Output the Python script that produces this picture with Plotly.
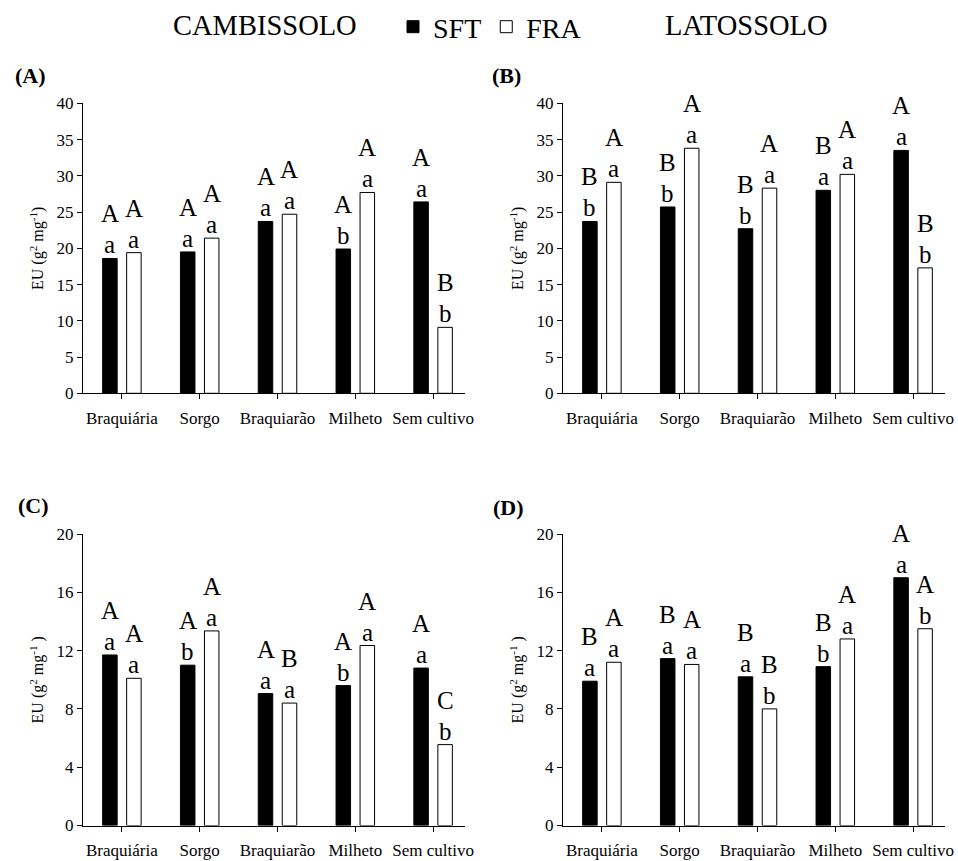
import plotly.graph_objects as go

categories = ["Braquiária", "Sorgo", "Braquiarão", "Milheto", "Sem cultivo"]

# Panel A (Cambissolo, top)
a_sft = [18.6, 19.5, 23.7, 19.9, 26.4]
a_fra = [19.4, 21.4, 24.7, 27.7, 9.1]
a_sft_up = ["A", "A", "A", "A", "A"]
a_sft_lo = ["a", "a", "a", "b", "a"]
a_fra_up = ["A", "A", "A", "A", "B"]
a_fra_lo = ["a", "a", "a", "a", "b"]

# Panel B (Latossolo, top)
b_sft = [23.7, 25.7, 22.7, 28.0, 33.5]
b_fra = [29.1, 33.8, 28.3, 30.2, 17.3]
b_sft_up = ["B", "B", "B", "B", "A"]
b_sft_lo = ["b", "b", "b", "a", "a"]
b_fra_up = ["A", "A", "A", "A", "B"]
b_fra_lo = ["a", "a", "a", "a", "b"]

# Panel C (Cambissolo, bottom)
c_sft = [11.7, 11.0, 9.05, 9.6, 10.8]
c_fra = [10.1, 13.35, 8.4, 12.35, 5.55]
c_sft_up = ["A", "A", "A", "A", "A"]
c_sft_lo = ["a", "b", "a", "b", "a"]
c_fra_up = ["A", "A", "B", "A", "C"]
c_fra_lo = ["a", "a", "a", "a", "b"]

# Panel D (Latossolo, bottom)
d_sft = [9.9, 11.45, 10.2, 10.9, 17.0]
d_fra = [11.2, 11.05, 8.0, 12.8, 13.5]
d_sft_up = ["B", "B", "B", "B", "A"]
d_sft_lo = ["a", "a", "a", "b", "a"]
d_fra_up = ["A", "A", "B", "A", "A"]
d_fra_lo = ["a", "a", "b", "a", "b"]

panel_labels = ["(A)", "(B)", "(C)", "(D)"]
y_titles = ["EU (g<sup>2</sup> mg<sup>-1</sup>)", "EU (g<sup>2</sup> mg<sup>-1</sup>)",
            "EU (g<sup>2</sup> mg<sup>-1</sup> )", "EU (g<sup>2</sup> mg<sup>-1</sup> )"]
y_ranges = [[0, 40], [0, 40], [0, 20], [0, 20]]
y_dticks = [5, 5, 4, 4]

W, H = 958, 861
FONT = "Liberation Serif"

panels = [
    (a_sft, a_fra, a_sft_up, a_sft_lo, a_fra_up, a_fra_lo),
    (b_sft, b_fra, b_sft_up, b_sft_lo, b_fra_up, b_fra_lo),
    (c_sft, c_fra, c_sft_up, c_sft_lo, c_fra_up, c_fra_lo),
    (d_sft, d_fra, d_sft_up, d_sft_lo, d_fra_up, d_fra_lo),
]

# pixel layout of plot areas (left, right, top, bottom)
boxes = [(83, 465, 103.3, 393.3), (563, 945, 103.3, 393.3),
         (83, 465, 534, 825.5), (563, 945, 534, 825.5)]

fig = go.Figure()
annotations = []
OFF = 0.154

for k, (sft, fra, sup, slo, fup, flo) in enumerate(panels):
    sfx = "" if k == 0 else str(k + 1)
    xa, ya = "x" + sfx, "y" + sfx
    fig.add_trace(go.Bar(x=categories, y=sft, name="SFT", legendgroup="SFT",
                         showlegend=(k == 0), xaxis=xa, yaxis=ya,
                         marker=dict(color="black", line=dict(color="black", width=1))))
    fig.add_trace(go.Bar(x=categories, y=fra, name="FRA", legendgroup="FRA",
                         showlegend=(k == 0), xaxis=xa, yaxis=ya,
                         marker=dict(color="white", line=dict(color="black", width=1))))
    for i in range(len(categories)):
        for val, up, lo, off in ((sft[i], sup[i], slo[i], -OFF), (fra[i], fup[i], flo[i], OFF)):
            annotations.append(dict(x=i + off, y=val, xref=xa, yref=ya, text=lo,
                                    showarrow=False, yanchor="bottom", yshift=-2,
                                    font=dict(family=FONT, size=25, color="black")))
            annotations.append(dict(x=i + off, y=val, xref=xa, yref=ya, text=up,
                                    showarrow=False, yanchor="bottom", yshift=29,
                                    font=dict(family=FONT, size=25, color="black")))

    l, r, t, b = boxes[k]
    axis_x = dict(domain=[l / W, r / W], range=[-0.5, 4.41], type="category",
                  categoryorder="array", categoryarray=categories,
                  showline=True, linecolor="black", linewidth=1, ticks="outside",
                  ticklen=5, tickcolor="black", showgrid=False, zeroline=False,
                  tickfont=dict(family=FONT, size=17, color="black"),
                  ticklabelstandoff=4,
                  anchor=ya, fixedrange=True, automargin=False)
    axis_y = dict(domain=[1 - b / H, 1 - t / H], range=y_ranges[k], dtick=y_dticks[k],
                  showline=True, linecolor="black", linewidth=1, ticks="outside",
                  ticklen=5, tickcolor="black", showgrid=False, zeroline=False,
                  tickfont=dict(family=FONT, size=17, color="black"),
                  title=dict(text=y_titles[k], font=dict(family=FONT, size=16, color="black"),
                             standoff=8),
                  anchor=xa, fixedrange=True, automargin=False)
    fig.update_layout({"xaxis" + sfx: axis_x, "yaxis" + sfx: axis_y})

label_pos = [(30, 76), (506, 76), (33, 506), (508, 507)]
for lab, (px, py) in zip(panel_labels, label_pos):
    annotations.append(dict(x=px / W, y=1 - py / H, xref="paper", yref="paper", text="<b>%s</b>" % lab,
                            showarrow=False, xanchor="center", yanchor="middle",
                            font=dict(family=FONT, size=22, color="black")))

annotations.append(dict(x=265 / W, y=1 - 26 / H, xref="paper", yref="paper", text="CAMBISSOLO",
                        showarrow=False, xanchor="center", yanchor="middle",
                        font=dict(family=FONT, size=28.5, color="black")))
annotations.append(dict(x=746 / W, y=1 - 26 / H, xref="paper", yref="paper", text="LATOSSOLO",
                        showarrow=False, xanchor="center", yanchor="middle",
                        font=dict(family=FONT, size=28.5, color="black")))

fig.update_layout(
    width=W, height=H,
    margin=dict(l=0, r=0, t=0, b=0),
    paper_bgcolor="white", plot_bgcolor="white",
    barmode="group", bargap=0.383, bargroupgap=0.396,
    annotations=annotations,
    legend=dict(orientation="h", x=393 / W, y=1 - 27 / H, xanchor="left", yanchor="middle",
                font=dict(family=FONT, size=28, color="black"), bgcolor="rgba(0,0,0,0)",
                itemclick=False, itemdoubleclick=False),
    font=dict(family=FONT, color="black"),
)

fig.write_html("out.html", config={"displayModeBar": False},
               post_script="document.body.style.margin='0';"
                           "document.documentElement.style.overflow='hidden';")
